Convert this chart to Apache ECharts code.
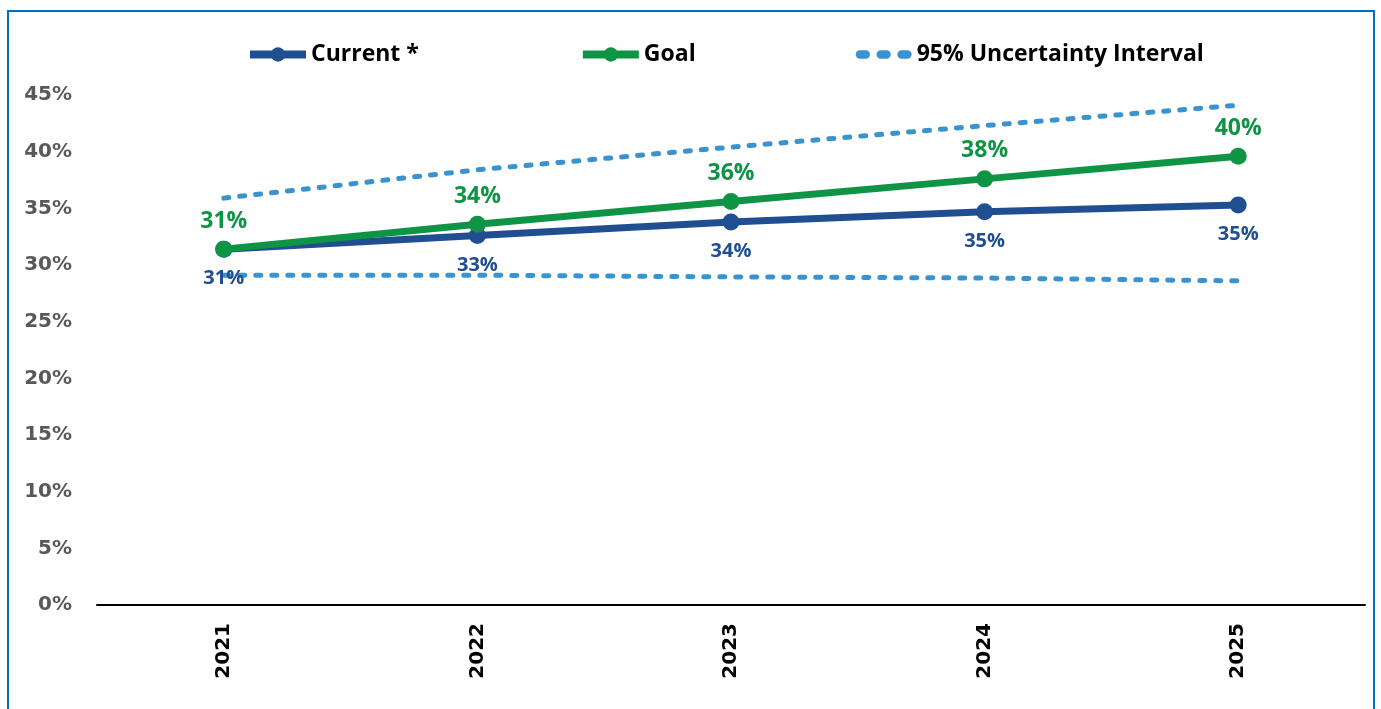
<!DOCTYPE html>
<html>
<head>
<meta charset="utf-8">
<script src="https://cdn.jsdelivr.net/npm/echarts@6/dist/echarts.min.js"></script>
<style>
  html, body { margin: 0; padding: 0; background: #fff; overflow: hidden; }
  #frame { position: absolute; left: 7px; top: 10px; width: 1368px; height: 720px; border: 2px solid #0070C0; box-sizing: border-box; }
  #chart { position: absolute; left: 0; top: 0; width: 1381px; height: 709px; }
</style>
</head>
<body>
<div id="frame"></div>
<div id="chart"></div>
<script>
const years = ['2021', '2022', '2023', '2024', '2025'];
const currentValues = [31.4, 32.6, 33.8, 34.7, 35.3];
const goalValues = [31.4, 33.6, 35.6, 37.6, 39.6];
const upperCI = [35.9, 38.4, 40.4, 42.3, 44.1];
const lowerCI = [29.1, 29.1, 28.95, 28.85, 28.6];
const yTicks = [0, 5, 10, 15, 20, 25, 30, 35, 40, 45];

const FONT = '"Open Sans", "Noto Sans", sans-serif';
const BLUE = '#1F4E91';
const GREEN = '#0E9444';
const CI = '#3A93CE';
const DOTS = 'path://M3.5,0 H8.5 A3.5,3.5 0 0 1 8.5,7 H3.5 A3.5,3.5 0 0 1 3.5,0 Z ' +
  'M21,0 H26 A3.5,3.5 0 0 1 26,7 H21 A3.5,3.5 0 0 1 21,0 Z ' +
  'M38.5,0 H43.5 A3.5,3.5 0 0 1 43.5,7 H38.5 A3.5,3.5 0 0 1 38.5,0 Z';

const chart = echarts.init(document.getElementById('chart'), null, { renderer: 'canvas' });
chart.setOption({
  animation: false,
  backgroundColor: 'transparent',
  legend: {
    orient: 'horizontal',
    top: 38,
    left: 241,
    itemGap: 160,
    itemWidth: 56,
    itemHeight: 18,
    textStyle: { fontFamily: FONT, fontWeight: 'bold', fontSize: 23, color: '#000' },
    data: [
      { name: 'Current *', lineStyle: { width: 8, color: BLUE }, itemStyle: { color: BLUE } },
      { name: 'Goal', lineStyle: { width: 8, color: GREEN }, itemStyle: { color: GREEN } },
      { name: '95% Uncertainty Interval', icon: DOTS, itemStyle: { color: CI } }
    ]
  },
  grid: { left: 97, right: 16, top: 95, bottom: 104, containLabel: false },
  xAxis: {
    type: 'category',
    data: years,
    boundaryGap: true,
    axisLine: { show: true, lineStyle: { color: '#000', width: 2 } },
    axisTick: { show: false },
    axisLabel: {
      rotate: 90,
      margin: 18,
      fontFamily: '"DejaVu Sans", sans-serif',
      fontWeight: 'bold',
      fontSize: 20,
      color: '#000'
    },
    splitLine: { show: false }
  },
  yAxis: {
    type: 'value',
    min: 0,
    max: 45,
    interval: 5,
    axisLine: { show: false },
    axisTick: { show: false },
    splitLine: { show: false },
    axisLabel: {
      margin: 25,
      fontFamily: '"DejaVu Sans", sans-serif',
      fontWeight: 'bold',
      fontSize: 20,
      color: '#595959',
      formatter: v => yTicks.includes(v) ? v + '%' : ''
    }
  },
  series: [
    {
      name: '95% Uncertainty Interval',
      type: 'line',
      data: upperCI,
      symbol: 'none',
      lineStyle: { color: CI, width: 5, type: [5, 11], cap: 'round' },
      itemStyle: { color: CI },
      z: 1
    },
    {
      name: '95% Uncertainty Interval',
      type: 'line',
      data: lowerCI,
      symbol: 'none',
      lineStyle: { color: CI, width: 5, type: [5, 11], cap: 'round' },
      itemStyle: { color: CI },
      z: 1
    },
    {
      name: 'Current *',
      type: 'line',
      data: currentValues,
      symbol: 'circle',
      symbolSize: 17,
      lineStyle: { color: BLUE, width: 7 },
      itemStyle: { color: BLUE },
      label: {
        show: true,
        position: 'bottom',
        distance: 11,
        fontFamily: FONT,
        fontWeight: 'bold',
        fontSize: 20,
        color: BLUE,
        formatter: p => Math.round(p.value) + '%'
      },
      z: 3
    },
    {
      name: 'Goal',
      type: 'line',
      data: goalValues,
      symbol: 'circle',
      symbolSize: 17,
      lineStyle: { color: GREEN, width: 7 },
      itemStyle: { color: GREEN },
      label: {
        show: true,
        position: 'top',
        distance: 8,
        fontFamily: FONT,
        fontWeight: 'bold',
        fontSize: 23,
        color: GREEN,
        formatter: p => Math.round(p.value) + '%'
      },
      z: 4
    }
  ]
});
</script>
</body>
</html>
